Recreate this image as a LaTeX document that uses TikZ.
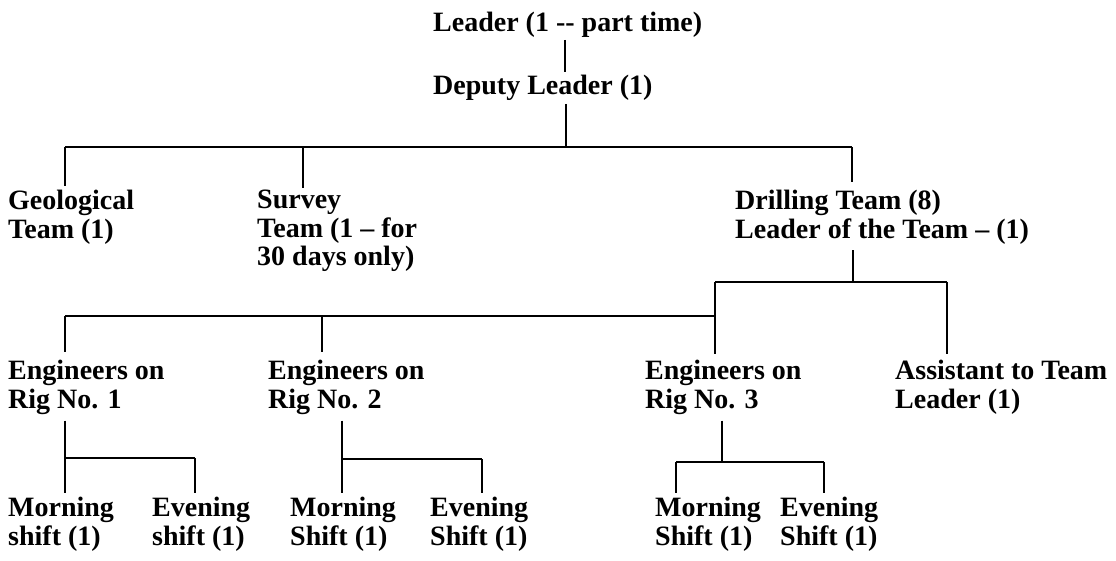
\documentclass[tikz,border=0pt]{standalone}
\usepackage{fontspec}
\setmainfont{Liberation Serif}
\begin{document}
\begin{tikzpicture}[x=1pt,y=-1pt,
  lbl/.style={anchor=north west,inner sep=0pt,align=left,
    font=\bfseries\fontsize{28}{28.5}\selectfont},
  vl/.style={line width=2.6pt},
  hl/.style={line width=1.4pt}]
\useasboundingbox (0,0) rectangle (1116,561);
% nodes
\node[lbl] (leader) at (433,12) {Leader (1 -{}- part time)};
\node[lbl] (deputy) at (433,75) {Deputy Leader (1)};
\node[lbl] (geo) at (8,190) {Geological\\Team (1)};
\node[lbl] (survey) at (257,190) {Survey\\Team (1 – for\\30 days only)};
\node[lbl] (drill) at (735,190) {Drilling Team (8)\\Leader of the Team – (1)};
\node[lbl] (rig1) at (8,360) {Engineers on\\Rig No. 1};
\node[lbl] (rig2) at (268,360) {Engineers on\\Rig No. 2};
\node[lbl] (rig3) at (645,360) {Engineers on\\Rig No. 3};
\node[lbl] (asst) at (895,360) {Assistant to Team\\Leader (1)};
\node[lbl] (m1) at (8,497) {Morning\\shift (1)};
\node[lbl] (e1) at (152,497) {Evening\\shift (1)};
\node[lbl] (m2) at (290,497) {Morning\\Shift (1)};
\node[lbl] (e2) at (430,497) {Evening\\Shift (1)};
\node[lbl] (m3) at (655,497) {Morning\\Shift (1)};
\node[lbl] (e3) at (780,497) {Evening\\Shift (1)};
% junctions
\coordinate (j0) at (565,40);
\coordinate (j1) at (566,147);
\coordinate (jg) at (65,147);
\coordinate (js) at (303,147);
\coordinate (jd) at (852,147);
\coordinate (j2) at (853,282);
\coordinate (j3) at (715,282);
\coordinate (j4) at (947,282);
\coordinate (j5) at (65,316);
\coordinate (j6) at (322,316);
\coordinate (k1) at (65,458);
\coordinate (k1e) at (195,458);
\coordinate (k2) at (342,459);
\coordinate (k2e) at (482,459);
\coordinate (k3) at (722,462);
\coordinate (k3l) at (676,462);
\coordinate (k3r) at (824,462);
% level 0-1
\draw[vl,shorten <=2pt,shorten >=3pt] (leader.south -| j0) -- (deputy.north -| j0);
\draw[vl,shorten <=3pt] (deputy.south -| j1) -- (j1);
\draw[hl] (jg) -- (jd);
\draw[vl,shorten >=4pt] (jg) -- (jg |- geo.north);
\draw[vl,shorten >=2pt] (js) -- (js |- survey.north);
\draw[vl,shorten >=8pt] (jd) -- (jd |- drill.north);
% drilling team
\draw[vl,shorten <=6pt] (drill.south -| j2) -- (j2);
\draw[hl] (j3) -- (j4);
\draw[vl,shorten >=6pt] (j3) -- (j3 |- rig3.north);
\draw[vl,shorten >=6pt] (j4) -- (j4 |- asst.north);
\draw[hl] (j5) -- (j3 |- j5);
\draw[vl,shorten >=8pt] (j5) -- (j5 |- rig1.north);
\draw[vl,shorten >=8pt] (j6) -- (j6 |- rig2.north);
% rig 1
\draw[vl,shorten <=6pt,shorten >=4pt] (rig1.south -| k1) -- (k1 |- m1.north);
\draw[hl] (k1) -- (k1e);
\draw[vl,shorten >=4pt] (k1e) -- (k1e |- e1.north);
% rig 2
\draw[vl,shorten <=6pt,shorten >=4pt] (rig2.south -| k2) -- (k2 |- m2.north);
\draw[hl] (k2) -- (k2e);
\draw[vl,shorten >=4pt] (k2e) -- (k2e |- e2.north);
% rig 3
\draw[vl,shorten <=6pt] (rig3.south -| k3) -- (k3);
\draw[hl] (k3l) -- (k3r);
\draw[vl,shorten >=4pt] (k3l) -- (k3l |- m3.north);
\draw[vl,shorten >=4pt] (k3r) -- (k3r |- e3.north);
\end{tikzpicture}
\end{document}
